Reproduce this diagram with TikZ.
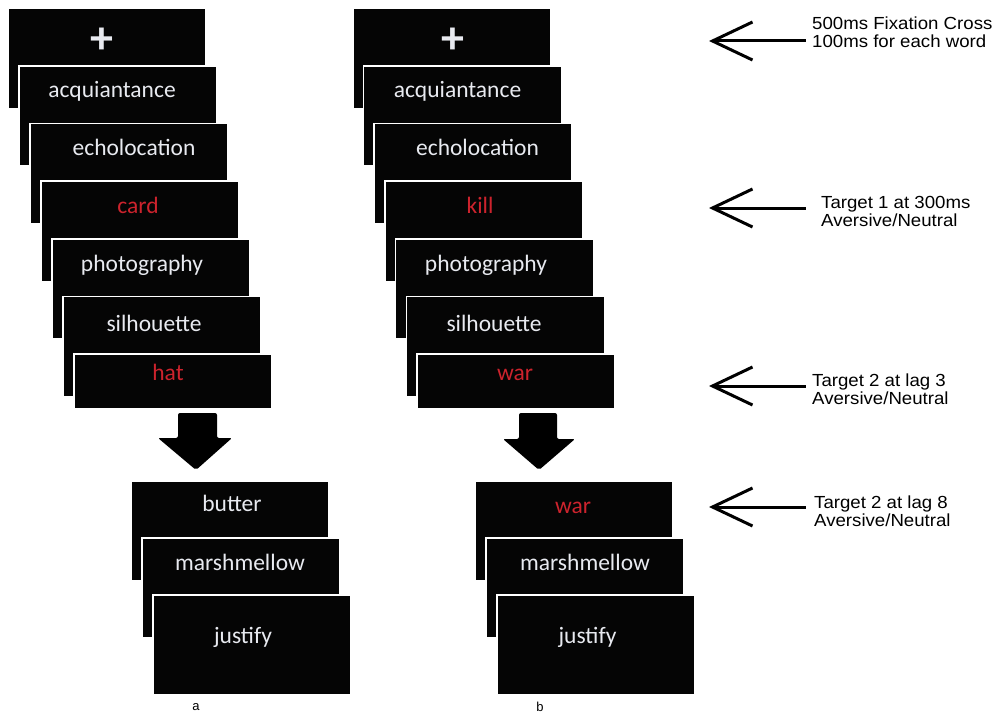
\documentclass[tikz,border=0pt]{standalone}
\usepackage{graphicx}
\usepackage{fontspec}
\setmainfont{Carlito}
\newfontfamily\arialf{Liberation Sans}
\usetikzlibrary{arrows.meta}
\definecolor{wordred}{RGB}{205,35,45}
\definecolor{wordfg}{RGB}{232,234,240}
\definecolor{cardbg}{RGB}{5,5,5}
\newcommand{\widetxt}[1]{\scalebox{1.065}[1]{#1}}
\tikzset{
  card/.style={fill=cardbg, draw=white, line width=1.5pt, anchor=north west, minimum width=198pt, inner sep=0},
  tallcard/.style={card, minimum height=100pt},
  shortcard/.style={card, minimum height=55pt},
  word/.style={anchor=base, text=wordfg, font=\fontsize{23.5}{28}\selectfont, inner sep=0},
  target/.style={word, text=wordred},
  fixcross/.style={text=wordfg, font=\bfseries\fontsize{46}{50}\selectfont, inner sep=0},
  note/.style={anchor=north west, inner sep=0, align=left, font=\arialf\fontsize{17.5}{18}\selectfont},
  pointer/.style={line width=3pt, {Straight Barb[length=40pt,width=38pt]}-},
  blockarrow/.style={fill=black, rounded corners=2pt},
  caption/.style={font=\arialf\fontsize{13}{15}\selectfont, inner sep=0}
}
\begin{document}
\begin{tikzpicture}[x=1pt,y=-1pt]
\fill[white] (0,0) rectangle (1003,714);
\useasboundingbox (0,0) rectangle (1003,714);

% ---------- left stack (a) ----------
\node[tallcard] (la1) at (7,8) {};
\node[tallcard] (la2) at (18,65.5) {};
\node[tallcard] (la3) at (29,123) {};
\node[tallcard] (la4) at (40,180.5) {};
\node[tallcard] (la5) at (51,238) {};
\node[tallcard] (la6) at (62,295.5) {};
\node[shortcard] (la7) at (73,353) {};
\node[fixcross] (lw1) at (102,41) {+};
\node[word] (lw2) at (112,98) {acquiantance};
\node[word] (lw3) at (134,156) {echolocation};
\node[target] (lw4) at (138,213) {card};
\node[word] (lw5) at (142,271) {photography};
\node[word] (lw6) at (154,331) {silhouette};
\node[target] (lw7) at (168,380) {hat};

% ---------- right stack (b) ----------
\node[tallcard] (rb1) at (352,8) {};
\node[tallcard] (rb2) at (362.7,65.5) {};
\node[tallcard] (rb3) at (373.4,123) {};
\node[tallcard] (rb4) at (384.1,180.5) {};
\node[tallcard] (rb5) at (394.8,238) {};
\node[tallcard] (rb6) at (405.5,295.5) {};
\node[shortcard] (rb7) at (416.2,353) {};
\node[fixcross] (rw1) at (453,41) {+};
\node[word] (rw2) at (457.5,98) {acquiantance};
\node[word] (rw3) at (477.5,156) {echolocation};
\node[target] (rw4) at (480,213) {kill};
\node[word] (rw5) at (486,271) {photography};
\node[word] (rw6) at (494,331) {silhouette};
\node[target] (rw7) at (515,380) {war};

% ---------- block arrows ----------
\fill[blockarrow] (178,413) -- (217,413) -- (217,438) -- (232,438) -- (196,470) -- (158,438) -- (178,438) -- cycle;
\fill[blockarrow] (519,413) -- (557,413) -- (557,439) -- (575,439) -- (539,470) -- (503,439) -- (519,439) -- cycle;

% ---------- bottom stacks ----------
\node[tallcard] (lc1) at (130,480) {};
\node[tallcard] (lc2) at (141,537) {};
\node[tallcard] (lc3) at (152,594) {};
\node[word] (lx1) at (232,511) {butter};
\node[word] (lx2) at (240,570) {marshmellow};
\node[word] (lx3) at (243,643) {justify};

\node[tallcard] (rc1) at (474,480) {};
\node[tallcard] (rc2) at (485,537) {};
\node[tallcard] (rc3) at (496,594) {};
\node[target] (rx1) at (573,513) {war};
\node[word] (rx2) at (585,570) {marshmellow};
\node[word] (rx3) at (587.5,643) {justify};

\node[caption] (capa) at (196,707) {a};
\node[caption] (capb) at (540,707) {b};

% ---------- notes with pointers ----------
\node[note] (n1) at (812,17) {\widetxt{500ms Fixation Cross}\\\widetxt{100ms for each word}};
\node[note] (n2) at (821,196) {\widetxt{Target 1 at 300ms}\\\widetxt{Aversive/Neutral}};
\node[note] (n3) at (812,374) {\widetxt{Target 2 at lag 3}\\\widetxt{Aversive/Neutral}};
\node[note] (n4) at (814,496) {\widetxt{Target 2 at lag 8}\\\widetxt{Aversive/Neutral}};

\coordinate (p1tip) at (709,41);  \coordinate (p1end) at (806,41);
\coordinate (p2tip) at (709,208); \coordinate (p2end) at (806,208);
\coordinate (p3tip) at (709,386); \coordinate (p3end) at (806,386);
\coordinate (p4tip) at (709,507); \coordinate (p4end) at (806,507);
\draw[pointer] (p1tip) -- (p1end);
\draw[pointer] (p2tip) -- (p2end);
\draw[pointer] (p3tip) -- (p3end);
\draw[pointer] (p4tip) -- (p4end);
\end{tikzpicture}
\end{document}
